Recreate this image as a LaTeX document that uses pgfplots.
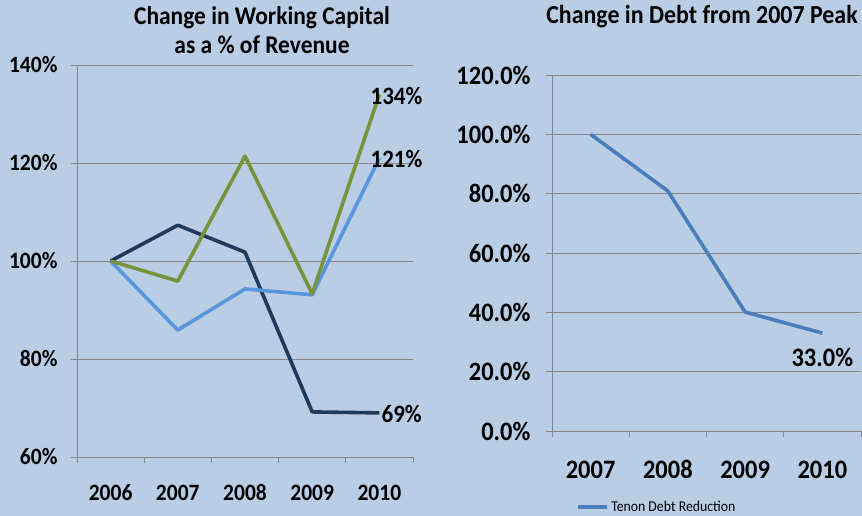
\documentclass[border=0pt]{standalone}
\usepackage{pgfplots}
\pgfplotsset{compat=1.18}
\usepackage{fontspec}
\setmainfont{Carlito}[FakeStretch=0.92, Numbers=Lining]
\definecolor{bg}{HTML}{B9CDE5}
\definecolor{navy}{HTML}{203A5C}
\definecolor{grn}{HTML}{77933C}
\definecolor{lblue}{HTML}{5A96DC}
\definecolor{rblue}{HTML}{4A7EBB}
\definecolor{gridc}{HTML}{868686}
\newcommand{\tl}{\fontsize{23.4bp}{26bp}\selectfont\bfseries}
\newcommand{\dl}{\fontsize{25bp}{28bp}\selectfont\bfseries}
\newcommand{\ttl}{\fontsize{25.5bp}{28bp}\selectfont\bfseries}
\newcommand{\tr}{\fontsize{26.6bp}{30bp}\selectfont\bfseries}
\newcommand{\ttr}{\fontsize{26bp}{30bp}\selectfont\bfseries}
\begin{document}
\begin{tikzpicture}
\fill[bg] (0,0) rectangle (862bp,516bp);
% titles
\node[font=\ttl] at (262bp,498bp) {Change in Working Capital};
\node[font=\ttl] at (262bp,471bp) {as a \% of Revenue};
\node[font=\ttr] at (702bp,499bp) {Change in Debt from 2007 Peak};
\begin{axis}[
  at={(77bp,59bp)}, anchor=south west, scale only axis,
  width=336bp, height=392bp,
  xmin=-0.5, xmax=4.5, ymin=60, ymax=140,
  axis x line*=bottom, axis y line*=left,
  axis line style={gridc, line width=0.8bp, -},
  xtick={0,1,2,3,4}, xticklabels={2006,2007,2008,2009,2010},
  minor xtick={-0.5,0.5,1.5,2.5,3.5,4.5},
  major x tick style={draw=none},
  minor x tick style={gridc, line width=0.8bp},
  minor tick length=6bp,
  ytick={60,80,100,120,140}, yticklabels={60\%,80\%,100\%,120\%,140\%},
  major y tick style={gridc, line width=0.8bp},
  major tick length=6bp,
  tick align=outside,
  ymajorgrids, grid style={gridc, line width=0.8bp},
  ticklabel style={font=\tl},
  xticklabel style={anchor=base, yshift=-37.4bp},
  yticklabel style={xshift=-10bp},
  clip=false,
]
\addplot[navy, line width=3.6bp, line join=round] coordinates {(0,100) (1,107.3) (2,101.8) (3,69.2) (4,69)};
\addplot[lblue, line width=3.6bp, line join=round] coordinates {(0,100) (1,85.9) (2,94.3) (3,93.1) (4,121)};
\addplot[grn, line width=3.6bp, line join=round] coordinates {(0,100) (1,95.9) (2,121.4) (3,93.3) (4,134)};
\node[font=\dl, anchor=west, inner sep=0pt] at ([xshift=-9bp,yshift=-2bp]axis cs:4,134) {134\%};
\node[font=\dl, anchor=west, inner sep=0pt] at ([xshift=-9bp,yshift=-1bp]axis cs:4,121) {121\%};
\node[font=\dl, anchor=west, inner sep=0pt] at ([xshift=2bp,yshift=-1bp]axis cs:4,69) {69\%};
\end{axis}
\begin{axis}[
  at={(552bp,85bp)}, anchor=south west, scale only axis,
  width=309bp, height=356bp,
  xmin=-0.5, xmax=3.5, ymin=0, ymax=120,
  axis x line*=bottom, axis y line*=left,
  axis line style={gridc, line width=0.8bp, -},
  xtick={0,1,2,3}, xticklabels={2007,2008,2009,2010},
  minor xtick={-0.5,0.5,1.5,2.5,3.5},
  major x tick style={draw=none},
  minor x tick style={gridc, line width=0.8bp},
  minor tick length=6bp,
  ytick={0,20,40,60,80,100,120}, yticklabels={0.0\%,20.0\%,40.0\%,60.0\%,80.0\%,100.0\%,120.0\%},
  major y tick style={gridc, line width=0.8bp},
  major tick length=6bp,
  tick align=outside,
  ymajorgrids, grid style={gridc, line width=0.8bp},
  ticklabel style={font=\tr},
  xticklabel style={anchor=base, yshift=-41.6bp},
  yticklabel style={xshift=-12bp},
  clip=false,
  legend style={at={(0.34,-0.2135)}, anchor=center, draw=none, fill=none,
    font=\fontsize{15bp}{17bp}\selectfont, inner sep=0pt},
  legend image code/.code={\draw[rblue, line width=3.6bp] (0bp,0bp) -- (29bp,0bp);},
]
\addplot[rblue, line width=3.6bp, line join=round] coordinates {(0,100) (1,80.9) (2,40.1) (3,33.0)};
\addlegendentry{Tenon Debt Reduction}
\node[font=\tr] at ([yshift=-24bp]axis cs:3,33) {33.0\%};
\end{axis}
\end{tikzpicture}
\end{document}
